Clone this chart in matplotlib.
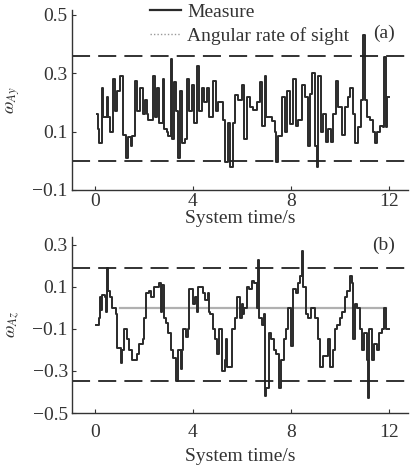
import matplotlib
matplotlib.use("Agg")
import matplotlib.pyplot as plt
from matplotlib.lines import Line2D

plt.rcParams['font.family'] = ['Liberation Serif', 'DejaVu Serif']
plt.rcParams['mathtext.fontset'] = 'stix'

# ---------------- data ----------------
t_a = [0.07, 0.12, 0.15, 0.27, 0.34, 0.48, 0.55, 0.61, 0.75, 0.82, 0.88, 1.02, 1.16, 1.27, 1.36,
       1.45, 1.5, 1.63, 1.73, 1.84, 1.95, 2.04, 2.12, 2.18, 2.38, 2.45, 2.52, 2.63, 2.76, 2.83,
       2.93, 3.0, 3.09, 3.13, 3.22, 3.3, 3.4, 3.47, 3.54, 3.67, 3.77, 3.85, 3.95, 4.05, 4.15,
       4.26, 4.35, 4.45, 4.56, 4.67, 4.83, 4.94, 5.03, 5.21, 5.3, 5.41, 5.51, 5.62, 5.71, 5.85,
       5.99, 6.08, 6.19, 6.33, 6.46, 6.6, 6.73, 6.8, 6.94, 7.0, 7.21, 7.35, 7.41, 7.48, 7.62,
       7.76, 7.85, 7.96, 8.1, 8.2, 8.3, 8.44, 8.57, 8.71, 8.78, 8.88, 8.98, 9.05, 9.12, 9.22,
       9.32, 9.43, 9.52, 9.63, 9.73, 9.84, 9.93, 10.07, 10.2, 10.34, 10.41, 10.52, 10.61, 10.75,
       10.88, 10.95, 11.02, 11.09, 11.22, 11.36, 11.43, 11.5, 11.63, 11.74, 11.8, 11.88, 11.93, 12.0]
v_a = [0.16, 0.11, 0.06, 0.25, 0.15, 0.22, 0.15, 0.10, 0.28, 0.17, 0.24, 0.29, 0.09, 0.01, 0.08,
       0.05, 0.085, 0.275, 0.17, 0.25, 0.16, 0.21, 0.16, 0.14, 0.29, 0.15, 0.25, 0.13, 0.28, 0.11,
       0.10, 0.085, 0.35, 0.075, 0.27, 0.17, 0.01, 0.24, 0.06, 0.075, 0.28, 0.17, 0.26, 0.13, 0.325,
       0.17, 0.25, 0.20, 0.25, 0.15, 0.275, 0.17, 0.20, 0.14, -0.005, 0.13, -0.02, 0.13, 0.225, 0.21,
       0.26, 0.075, 0.22, 0.185, 0.175, 0.20, 0.27, 0.12, 0.29, 0.15, 0.135, 0.10, -0.005, 0.085, 0.22,
       0.10, 0.24, 0.125, 0.28, 0.12, 0.14, 0.26, 0.22, 0.05, 0.23, 0.30, 0.05, -0.02, 0.29, 0.10,
       0.16, 0.065, 0.11, 0.065, 0.16, 0.275, 0.185, 0.09, 0.185, 0.22, 0.25, 0.16, 0.06, 0.115,
       0.21, 0.43, 0.21, 0.15, 0.14, 0.10, 0.06, 0.10, 0.12, 0.115, 0.355, 0.115, 0.22, 0.22]

t_b = [0.05, 0.15, 0.2, 0.25, 0.3, 0.4, 0.45, 0.5, 0.55, 0.6, 0.7, 0.85, 0.9, 1.05, 1.1,
       1.2, 1.3, 1.4, 1.5, 1.7, 1.8, 1.95, 2.0, 2.1, 2.2, 2.3, 2.4, 2.6, 2.7, 2.75,
       2.8, 2.9, 3.0, 3.1, 3.2, 3.3, 3.4, 3.5, 3.55, 3.6, 3.7, 3.8, 3.85, 4.0, 4.1,
       4.15, 4.2, 4.3, 4.4, 4.5, 4.6, 4.65, 4.7, 4.8, 4.9, 5.0, 5.05, 5.2, 5.3, 5.35,
       5.4, 5.55, 5.6, 5.7, 5.8, 5.9, 6.0, 6.05, 6.1, 6.2, 6.3, 6.4, 6.5, 6.6, 6.65,
       6.7, 6.8, 6.9, 6.95, 7.0, 7.1, 7.2, 7.3, 7.4, 7.5, 7.6, 7.7, 7.8, 7.9, 8.0,
       8.1, 8.2, 8.3, 8.35, 8.45, 8.5, 8.6, 8.7, 8.8, 8.9, 9.0, 9.1, 9.2, 9.3, 9.5,
       9.6, 9.7, 9.8, 9.9, 10.0, 10.1, 10.2, 10.3, 10.4, 10.5, 10.55, 10.6, 10.7, 10.8, 10.9,
       11.0, 11.1, 11.15, 11.2, 11.3, 11.4, 11.5, 11.6, 11.7, 11.8, 11.9, 12.0]
v_b = [-0.08, -0.05, 0.05, -0.01, 0.06, 0.05, -0.02, 0.19, 0.08, 0.05, 0.0, -0.03, -0.19, -0.26, -0.20,
       -0.10, -0.15, -0.20, -0.25, -0.22, -0.17, -0.15, -0.05, 0.07, 0.08, 0.05, 0.10, 0.12, -0.02, 0.11,
       -0.05, -0.07, -0.12, -0.20, -0.24, -0.35, -0.20, -0.29, -0.20, -0.10, -0.14, -0.10, 0.09, 0.02, 0.05,
       -0.02, 0.10, 0.10, 0.07, 0.04, 0.07, -0.02, -0.03, -0.10, -0.15, -0.22, -0.10, -0.30, -0.25, -0.15,
       -0.28, -0.28, -0.10, -0.05, 0.05, -0.05, 0.02, -0.03, 0.0, 0.10, 0.09, 0.13, 0.12, 0.0, 0.23,
       -0.05, -0.08, -0.03, -0.42, -0.38, -0.12, -0.15, -0.20, -0.22, -0.38, -0.25, -0.15, -0.10, 0.0, -0.18,
       0.09, 0.07, 0.12, 0.15, 0.27, 0.10, -0.03, -0.05, 0.0, 0.0, -0.05, -0.15, -0.28, -0.23, -0.15,
       -0.28, -0.20, -0.10, -0.08, -0.05, -0.02, 0.05, 0.08, 0.15, 0.12, -0.15, 0.02, 0.0, -0.10, -0.20,
       -0.12, -0.25, -0.43, -0.10, -0.25, -0.17, -0.20, -0.12, -0.10, 0.0, -0.10, -0.10]

sight_t = [1.0, 11.9]
sight_b = [0.0, 0.0]

bounds_a = [0.36, 0.0]
bounds_b = [0.19, -0.35]

x_ticks = [0, 4, 8, 12]
y_ticks_a = [-0.1, 0.1, 0.3, 0.5]
y_ticks_b = [-0.5, -0.3, -0.1, 0.1, 0.3]

# ---------------- figure ----------------
W, H = 411, 466
fig = plt.figure(figsize=(W / 100, H / 100), dpi=100)

def px_axes(l, t, r, b):
    return fig.add_axes([l / W, 1 - b / H, (r - l) / W, (b - t) / H])

ax1 = px_axes(72, 10, 408, 190)
ax2 = px_axes(72, 237, 408, 413)

meas_color = '#2a2a2a'
txt_color = '#333333'
fs = 14

def style(ax, yticks, ylim, ylabel, xpad, xlabel_y):
    ax.set_xlim(-0.94, 12.78)
    ax.set_ylim(*ylim)
    ax.set_xticks(x_ticks)
    ax.set_xticklabels([str(v) for v in x_ticks])
    ax.set_yticks(yticks)
    ax.set_yticklabels([f'{v:.1f}'.replace('-', '\u2212') for v in yticks])
    for s in ['top', 'right']:
        ax.spines[s].set_visible(False)
    for s in ['left', 'bottom']:
        ax.spines[s].set_linewidth(1.0)
        ax.spines[s].set_color('#333333')
    ax.tick_params(direction='in', length=3, width=0.8, labelsize=fs, colors=txt_color)
    ax.tick_params(axis='y', pad=3)
    ax.tick_params(axis='x', pad=xpad)
    ax.set_xlabel('System time/s', fontsize=fs, color=txt_color)
    ax.xaxis.set_label_coords(0.5, xlabel_y)
    ax.set_ylabel(ylabel, fontsize=fs - 1, color=txt_color)
    ax.yaxis.set_label_coords(-0.15, 0.5)

# top panel
ax1.step(t_a, v_a, where='post', color=meas_color, lw=1.4)
for b in bounds_a:
    ax1.axhline(b, color='#222222', lw=1.3, dashes=(10, 4.5))
style(ax1, y_ticks_a, (-0.1, 0.517), r'$\omega_{Ay}$', 2, -0.11)
ax1.text(384, H - 33, '(a)', transform=None, fontsize=fs, ha='center', va='center', color=txt_color)

handles = [Line2D([], [], color=meas_color, lw=1.6),
           Line2D([], [], color='#999999', lw=1.0, ls=(0, (1, 1.5)))]
leg = ax1.legend(handles, ['Measure', 'Angular rate of sight'], loc='upper left',
                 bbox_to_anchor=(150 / W, 1 - 3 / H), bbox_transform=fig.transFigure,
                 frameon=False, fontsize=fs, handlelength=1.6, handletextpad=0.3,
                 labelspacing=0.35, borderaxespad=0, borderpad=0)
for txt in leg.get_texts():
    txt.set_color(txt_color)

# bottom panel
ax2.plot(sight_t, sight_b, color='#b0b0b0', lw=1.6, zorder=1)
ax2.step(t_b, v_b, where='post', color=meas_color, lw=1.4, zorder=2)
for b in bounds_b:
    ax2.axhline(b, color='#222222', lw=1.3, dashes=(10, 4.5))
style(ax2, y_ticks_b, (-0.5, 0.338), r'$\omega_{Az}$', 8, -0.2)
ax2.text(384, H - 245, '(b)', transform=None, fontsize=fs, ha='center', va='center', color=txt_color)

fig.savefig('out.png', dpi=100)
